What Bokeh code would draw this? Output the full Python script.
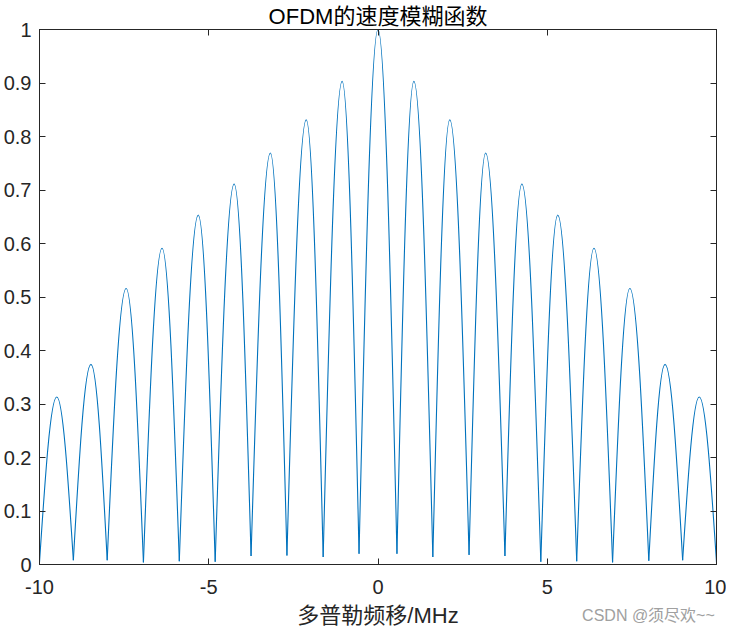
from bokeh.plotting import figure
from bokeh.models import Range1d, FixedTicker, LinearAxis, ColumnDataSource, CustomLabelingPolicy
from bokeh.embed import file_html
from bokeh.resources import INLINE

# ---- data ----
# lobe boundaries (nulls) of the speed ambiguity function, MHz
null_x = [-10.0, -9.00, -8.00, -6.93, -5.87, -4.81, -3.75, -2.69, -1.62, -0.56,
          0.56, 1.62, 2.69, 3.75, 4.81, 5.87, 6.93, 8.00, 9.00, 10.0]
# value at each null
null_y = [0.004, 0.008, 0.008, 0.004, 0.006, 0.005, 0.016, 0.017, 0.014, 0.020,
          0.020, 0.014, 0.018, 0.016, 0.005, 0.006, 0.004, 0.007, 0.008, 0.004]
# lobe peaks
peak_x = [-9.49, -8.48, -7.44, -6.38, -5.31, -4.25, -3.18, -2.12, -1.06, 0.0,
          1.06, 2.12, 3.18, 4.25, 5.31, 6.38, 7.44, 8.48, 9.49]
peak_y = [0.313, 0.374, 0.516, 0.591, 0.653, 0.711, 0.769, 0.831, 0.903, 1.0,
          0.903, 0.831, 0.769, 0.711, 0.653, 0.591, 0.516, 0.374, 0.313]

x_ticks = [-10, -5, 0, 5, 10]
x_tick_labels = ["-10", "-5", "0", "5", "10"]
y_ticks = [0, 0.1, 0.2, 0.3, 0.4, 0.5, 0.6, 0.7, 0.8, 0.9, 1]
y_tick_labels = ["0", "0.1", "0.2", "0.3", "0.4", "0.5", "0.6", "0.7", "0.8", "0.9", "1"]

title_text = "OFDM的速度模糊函数"
xlabel_text = "多普勒频移/MHz"
watermark_text = "CSDN @须尽欢~~"
watermark_anchor = 7.99   # horizontal centre of the watermark, in axis units

# ---- build smooth arch segments (cubic Bezier, sine-like arch shape) ----
A, B, C = 0.326, 0.512, 0.638
seg = dict(x0=[], y0=[], x1=[], y1=[], cx0=[], cy0=[], cx1=[], cy1=[])
for i in range(len(peak_x)):
    zx, zy = null_x[i], null_y[i]
    px, py = peak_x[i], peak_y[i]
    zx2, zy2 = null_x[i + 1], null_y[i + 1]
    seg["x0"].append(zx); seg["y0"].append(zy)
    seg["x1"].append(px); seg["y1"].append(py)
    seg["cx0"].append(zx + A * (px - zx)); seg["cy0"].append(zy + B * (py - zy))
    seg["cx1"].append(zx + C * (px - zx)); seg["cy1"].append(py)
    seg["x0"].append(px); seg["y0"].append(py)
    seg["x1"].append(zx2); seg["y1"].append(zy2)
    seg["cx0"].append(px + (1 - C) * (zx2 - px)); seg["cy0"].append(py)
    seg["cx1"].append(px + (1 - A) * (zx2 - px)); seg["cy1"].append(zy2 + B * (py - zy2))
src = ColumnDataSource(seg)

FONT = "Liberation Sans, Noto Sans CJK SC"
AX = "#262626"

p = figure(width=726, height=630, x_range=Range1d(-10, 10), y_range=Range1d(0, 1),
           output_backend="svg", toolbar_location=None,
           min_border_left=39, min_border_right=10, min_border_top=29, min_border_bottom=66)
p.background_fill_color = "white"
p.border_fill_color = "white"
p.outline_line_color = AX
p.grid.visible = False

p.title.text = title_text
p.title.align = "center"
p.title.text_font = FONT
p.title.text_font_size = "22px"
p.title.text_font_style = "normal"
p.title.text_color = "black"
p.title.standoff = 1

p.bezier(x0="x0", y0="y0", x1="x1", y1="y1", cx0="cx0", cy0="cy0", cx1="cx1", cy1="cy1",
         source=src, line_color="#0072BD", line_width=1.1)

def style(ax):
    ax.major_tick_in = 6
    ax.major_tick_out = 0
    ax.minor_tick_in = 0
    ax.minor_tick_out = 0
    ax.axis_line_color = AX
    ax.major_tick_line_color = AX
    ax.major_label_text_color = AX
    ax.major_label_text_font = FONT
    ax.major_label_text_font_size = "20px"

xa = p.xaxis[0]
ya = p.yaxis[0]
style(xa); style(ya)
xa.ticker = FixedTicker(ticks=x_ticks)
xa.major_label_overrides = {float(t): l for t, l in zip(x_ticks, x_tick_labels)}
ya.ticker = FixedTicker(ticks=y_ticks)
ya.major_label_overrides = {float(t): l for t, l in zip(y_ticks, y_tick_labels)}
ya.major_label_standoff = 8
xa.major_label_standoff = 15
xa.axis_label = xlabel_text
xa.axis_label_text_font = FONT
xa.axis_label_text_font_size = "22px"
xa.axis_label_text_font_style = "normal"
xa.axis_label_text_color = AX
xa.axis_label_standoff = 6

# mirrored tick marks on the top and right edges (no labels)
hide_all = "for (const i of Array.from(indices)) { indices.unset(i) }\nreturn indices"
top = LinearAxis(ticker=FixedTicker(ticks=x_ticks))
right = LinearAxis(ticker=FixedTicker(ticks=y_ticks))
for ax in (top, right):
    style(ax)
    ax.major_label_text_font_size = "0px"
    ax.major_label_standoff = 0
    ax.major_label_policy = CustomLabelingPolicy(code=hide_all)
p.add_layout(top, "above")
p.add_layout(right, "right")

# watermark carried by a bare extra axis below the main one, pulled back up
wm = LinearAxis(ticker=FixedTicker(ticks=[watermark_anchor]))
wm.major_label_overrides = {float(watermark_anchor): watermark_text}
wm.axis_line_color = None
wm.major_tick_line_color = None
wm.minor_tick_line_color = None
wm.major_tick_in = 0
wm.major_tick_out = 0
wm.major_label_text_font = FONT
wm.major_label_text_font_size = "16px"
wm.major_label_text_color = "#a0a0a0"
wm.major_label_standoff = -24
p.add_layout(wm, "below")

open("out.html", "w").write(file_html(p, INLINE))
